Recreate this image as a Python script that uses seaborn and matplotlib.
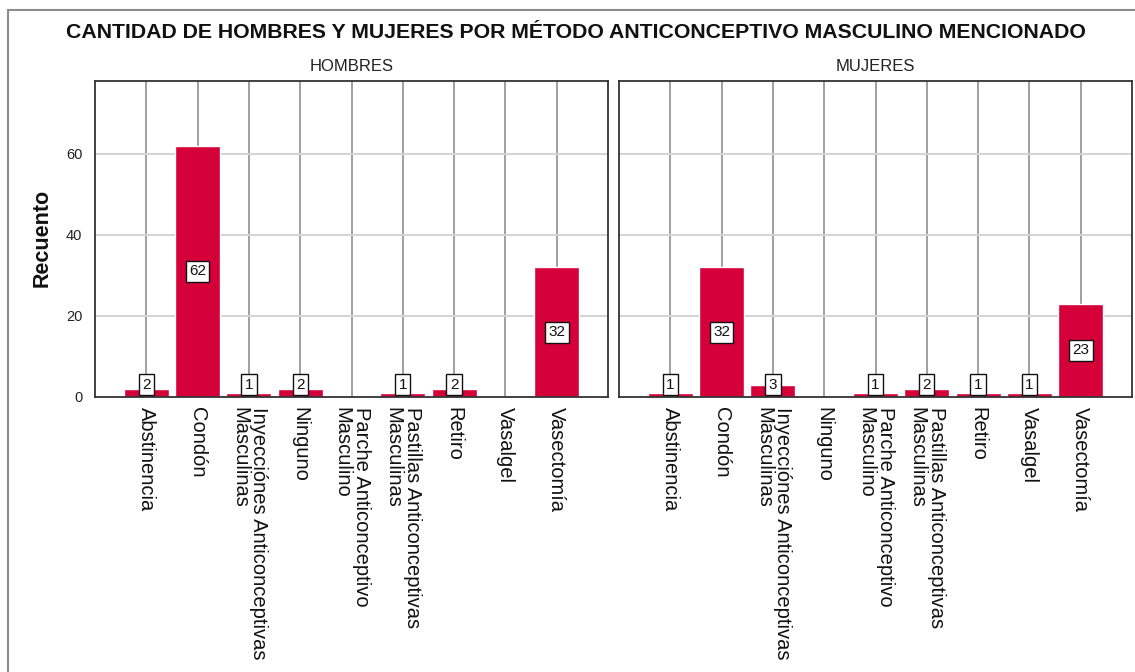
import matplotlib
matplotlib.use("Agg")
import matplotlib.pyplot as plt
import seaborn as sns
import pandas as pd
from matplotlib.lines import Line2D

categories = [
    "Abstinencia",
    "Condón",
    "Inyecciónes Anticonceptivas\nMasculinas",
    "Ninguno",
    "Parche Anticonceptivo\nMasculino",
    "Pastillas Anticonceptivas\nMasculinas",
    "Retiro",
    "Vasalgel",
    "Vasectomía",
]
hombres = [2, 62, 1, 2, 0, 1, 2, 0, 32]
mujeres = [1, 32, 3, 0, 1, 2, 1, 1, 23]
panel_titles = ["HOMBRES", "MUJERES"]
yticks = [0, 20, 40, 60]

sns.set_theme(style="white")
plt.rcParams["font.family"] = ["Liberation Sans", "DejaVu Sans"]

W, H = 1135, 672
fig = plt.figure(figsize=(W / 100, H / 100), dpi=100)

bar_color = "#D5003A"
panels = [(95, 608), (619, 1132)]
top_px, bot_px = 81, 397

for i, (vals, title) in enumerate(zip([hombres, mujeres], panel_titles)):
    l, r = panels[i]
    ax = fig.add_axes([l / W, 1 - bot_px / H, (r - l) / W, (bot_px - top_px) / H])
    df = pd.DataFrame({"cat": categories, "val": vals})
    for k in range(len(categories)):
        ax.axvline(k, color="#8f8f8f", lw=1.2, zorder=0)
    for yv in yticks[1:]:
        ax.axhline(yv, color="#d4d4d4", lw=1.5, zorder=0)
    sns.barplot(data=df, x="cat", y="val", color=bar_color, width=0.88,
                saturation=1, ax=ax, zorder=2)
    ax.set_xlim(-1, len(categories))
    ax.set_ylim(0, 78)
    ax.set_xlabel("")
    ax.set_ylabel("")
    ax.set_yticks(yticks)
    ax.tick_params(axis="both", length=0)
    ax.set_xticks(range(len(categories)))
    ax.set_xticklabels(categories, rotation=270, ha="center", va="top",
                       fontsize=14.5, color="#111111", linespacing=1.0,
                       multialignment="left")
    ax.tick_params(axis="x", pad=7)
    if i == 0:
        ax.set_yticklabels([str(t) for t in yticks], fontsize=10.5, color="#222222")
        ax.tick_params(axis="y", pad=9)
    else:
        ax.set_yticklabels([])
    for s in ax.spines.values():
        s.set_color("#333333")
        s.set_linewidth(1.3)
        s.set_visible(True)
    ax.set_title(title, fontsize=12, color="#222222", pad=7)
    for k, v in enumerate(vals):
        if v > 0:
            ax.text(k, max(v / 2, 3.0), str(v), ha="center", va="center",
                    fontsize=11, color="#111111", zorder=5,
                    bbox=dict(boxstyle="square,pad=0.22", fc="white",
                              ec="#111111", lw=1.0))

fig.text(42 / W, 1 - 238 / H, "Recuento", rotation=90, ha="center", va="center",
         fontsize=15.5, fontweight="bold", color="#111111")
fig.text(576 / W, 1 - 33 / H,
         "CANTIDAD DE HOMBRES Y MUJERES POR MÉTODO ANTICONCEPTIVO MASCULINO MENCIONADO",
         ha="center", va="center", fontsize=15.3, fontweight="bold", color="#111111")

fig.add_artist(Line2D([8 / W, 8 / W], [0, 1 - 10 / H], transform=fig.transFigure,
                      color="#8c8c8c", lw=1.5))
fig.add_artist(Line2D([8 / W, 1], [1 - 10 / H, 1 - 10 / H], transform=fig.transFigure,
                      color="#8c8c8c", lw=1.5))

fig.savefig("out.png", dpi=100, facecolor="white")
